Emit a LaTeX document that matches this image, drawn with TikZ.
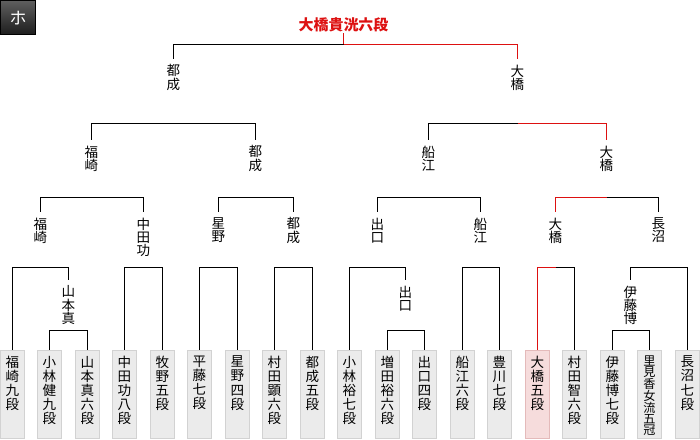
\documentclass[tikz,border=0pt]{standalone}
\usepackage{fontspec}
\setmainfont{Noto Sans CJK JP}
\usepackage{tikz}
\definecolor{tourred}{HTML}{DD1111}
\definecolor{tourbox}{HTML}{EBEBEB}
\definecolor{tourrim}{HTML}{D2D2D2}
\definecolor{tourpink}{HTML}{F6DCDC}
\definecolor{tourpinkrim}{HTML}{E4BABA}
\definecolor{tabtop}{HTML}{5E5E5E}
\definecolor{tabbot}{HTML}{1C1C1C}
\newcommand\tate[1]{\parbox[t][76bp][t]{24bp}{\fontsize{13.6}{14.2}\selectfont\centering #1}}

\begin{document}
\begin{tikzpicture}[
  x=1bp, y=-1bp,
  wire/.style={line width=1bp, draw=black},
  winwire/.style={line width=1bp, draw=tourred},
  player/.style={draw=tourrim, fill=tourbox, line width=1bp, minimum width=24bp, minimum height=88bp, inner xsep=0pt, inner ysep=6bp, anchor=north},
  champ/.style={player, draw=tourpinkrim, fill=tourpink},
  winner/.style={anchor=north, align=center, inner xsep=0pt, inner ysep=5.5bp, font=\fontsize{13.6}{13.4}\selectfont},
  crown/.style={anchor=south, inner sep=1bp, font=\fontsize{15}{15}\selectfont\bfseries, text=tourred},
  badge/.style={draw=black, line width=1bp, minimum size=34bp, inner sep=0pt, top color=tabtop, bottom color=tabbot, text=white, font=\fontsize{17}{17}\selectfont}
]
\useasboundingbox (0,0) rectangle (700,440);

\node[badge] (tab) at (18,18) {ホ};
\node[crown] (top) at (343.5,33) {大橋貴洸六段};

\node[player] (b1) at (12.5,349.5) {\tate{福\\崎\\九\\段}};
\node[player] (b2) at (49.5,349.5) {\tate{小\\林\\健\\九\\段}};
\node[player] (b3) at (87.5,349.5) {\tate{山\\本\\真\\六\\段}};
\node[player] (b4) at (124.5,349.5) {\tate{中\\田\\功\\八\\段}};
\node[player] (b5) at (162.5,349.5) {\tate{牧\\野\\五\\段}};
\node[player] (b6) at (199.5,349.5) {\tate{平\\藤\\七\\段}};
\node[player] (b7) at (237.5,349.5) {\tate{星\\野\\四\\段}};
\node[player] (b8) at (274.5,349.5) {\tate{村\\田\\顕\\六\\段}};
\node[player] (b9) at (312.5,349.5) {\tate{都\\成\\五\\段}};
\node[player] (b10) at (349.5,349.5) {\tate{小\\林\\裕\\七\\段}};
\node[player] (b11) at (387.5,349.5) {\tate{増\\田\\裕\\六\\段}};
\node[player] (b12) at (424.5,349.5) {\tate{出\\口\\四\\段}};
\node[player] (b13) at (462.5,349.5) {\tate{船\\江\\六\\段}};
\node[player] (b14) at (499.5,349.5) {\tate{豊\\川\\七\\段}};
\node[champ] (b15) at (537.5,349.5) {\tate{大\\橋\\五\\段}};
\node[player] (b16) at (574.5,349.5) {\tate{村\\田\\智\\六\\段}};
\node[player] (b17) at (612.5,349.5) {\tate{伊\\藤\\博\\七\\段}};
\node[player] (b18) at (649.5,349.5) {\tate{\fontsize{12.2}{11.2}\selectfont 里\\見\\香\\女\\流\\五\\冠}};
\node[player] (b19) at (687.5,349.5) {\tate{長\\沼\\七\\段}};

\node[winner] (w1) at (68.5,280) {山\\本\\真};
\node[winner] (w2) at (405.5,280) {出\\口};
\node[winner] (w3) at (630.5,280) {伊\\藤\\博};

\node[winner] (s1) at (40.5,212) {福\\崎};
\node[winner] (s2) at (143.5,212) {中\\田\\功};
\node[winner] (s3) at (218.5,212) {星\\野};
\node[winner] (s4) at (293.5,212) {都\\成};
\node[winner] (s5) at (377.5,212) {出\\口};
\node[winner] (s6) at (480.5,212) {船\\江};
\node[winner] (s7) at (555.5,212) {大\\橋};
\node[winner] (s8) at (658.5,212) {長\\沼};

\node[winner] (q1) at (91.5,140) {福\\崎};
\node[winner] (q2) at (255.5,140) {都\\成};
\node[winner] (q3) at (428.5,140) {船\\江};
\node[winner] (q4) at (606.5,140) {大\\橋};

\node[winner] (h1) at (173.5,59) {都\\成};
\node[winner] (h2) at (517.5,59) {大\\橋};

\coordinate (j0) at (343.5,44.5);
\coordinate (j41) at (173.5,123.5);
\coordinate (j42) at (517.5,123.5);
\coordinate (j31) at (91.5,197.5);
\coordinate (j32) at (255.5,197.5);
\coordinate (j33) at (428.5,197.5);
\coordinate (j34) at (606.5,197.5);
\coordinate (j21) at (40.5,267.5);
\coordinate (j22) at (143.5,267.5);
\coordinate (j23) at (218.5,267.5);
\coordinate (j24) at (293.5,267.5);
\coordinate (j25) at (377.5,267.5);
\coordinate (j26) at (480.5,267.5);
\coordinate (j27) at (555.5,267.5);
\coordinate (j28) at (658.5,267.5);
\coordinate (j11) at (68.5,330.5);
\coordinate (j12) at (405.5,330.5);
\coordinate (j13) at (630.5,330.5);

\draw[wire] (h1.north) |- (j0);
\draw[winwire] (j0) -| (h2.north);
\draw[winwire] (j0) -- (top.south);

\draw[wire] (q1.north) |- (j41) -| (q2.north);
\draw[wire] (q3.north) |- (j42);
\draw[winwire] (j42) -| (q4.north);

\draw[wire] (s1.north) |- (j31) -| (s2.north);
\draw[wire] (s3.north) |- (j32) -| (s4.north);
\draw[wire] (s5.north) |- (j33) -| (s6.north);
\draw[winwire] (s7.north) |- (j34);
\draw[wire] (j34) -| (s8.north);

\draw[wire] (b1.north) |- (j21) -| (w1.north);
\draw[wire] (b4.north) |- (j22) -| (b5.north);
\draw[wire] (b6.north) |- (j23) -| (b7.north);
\draw[wire] (b8.north) |- (j24) -| (b9.north);
\draw[wire] (b10.north) |- (j25) -| (w2.north);
\draw[wire] (b13.north) |- (j26) -| (b14.north);
\draw[winwire] (b15.north) |- (j27);
\draw[wire] (j27) -| (b16.north);
\draw[wire] (w3.north) |- (j28) -| (b19.north);

\draw[wire] (b2.north) |- (j11) -| (b3.north);
\draw[wire] (b11.north) |- (j12) -| (b12.north);
\draw[wire] (b17.north) |- (j13) -| (b18.north);
\end{tikzpicture}
\end{document}
